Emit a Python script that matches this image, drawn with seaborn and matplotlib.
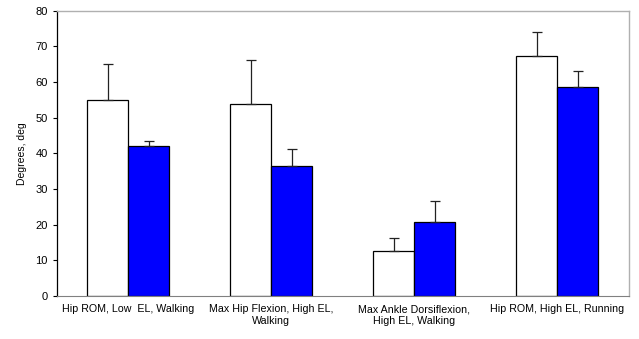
import matplotlib
matplotlib.use("Agg")
import matplotlib.pyplot as plt
import seaborn as sns
import pandas as pd
import numpy as np

categories = [
    "Hip ROM, Low  EL, Walking",
    "Max Hip Flexion, High EL,\nWalking",
    "Max Ankle Dorsiflexion,\nHigh EL, Walking",
    "Hip ROM, High EL, Running",
]
groups = ["A", "B"]
means_a = [55.0, 54.0, 12.7, 67.4]
means_b = [42.0, 36.6, 20.7, 58.5]
err_a = [10.0, 12.2, 3.5, 6.8]
err_b = [1.6, 4.5, 5.9, 4.5]

df = pd.DataFrame({
    "cat": categories * 2,
    "group": [groups[0]] * 4 + [groups[1]] * 4,
    "value": means_a + means_b,
})

sns.set_style("white", {"text.color": "black", "axes.labelcolor": "black",
                        "xtick.color": "black", "ytick.color": "black"})
plt.rcParams["font.family"] = ["Liberation Sans", "DejaVu Sans"]

fig = plt.figure(figsize=(6.39, 3.39), dpi=100)
ax = fig.add_axes([0.089, 0.127, 0.895, 0.841])

sns.barplot(data=df, x="cat", y="value", hue="group", order=categories,
            hue_order=groups, palette=["white", "#0000ff"], saturation=1,
            width=0.575, edgecolor="black", linewidth=0.9, errorbar=None,
            legend=False, gap=0, ax=ax)

# upward-only error bars
for container, errs in zip(ax.containers, [err_a, err_b]):
    xs = [p.get_x() + p.get_width() / 2 for p in container.patches]
    hs = [p.get_height() for p in container.patches]
    ax.errorbar(xs, hs, yerr=[np.zeros(len(errs)), errs], fmt="none",
                ecolor="#222222", elinewidth=0.9, capsize=3.5, capthick=0.9,
                zorder=1)

ax.set_ylim(0, 80)
ax.set_xlim(-0.5, 3.5)
ax.set_yticks(range(0, 81, 10))
ax.set_xlabel("")
ax.set_ylabel("Degrees, deg", fontsize=7.5, labelpad=6)
ax.tick_params(axis="y", direction="out", length=3, width=0.8, labelsize=8,
               left=True, color="black")
ax.tick_params(axis="x", length=0, labelsize=7.7, pad=6)

for side in ["top", "right"]:
    ax.spines[side].set_color("#b0b0b0")
    ax.spines[side].set_linewidth(1.0)
ax.spines["bottom"].set_color("#808080")
ax.spines["left"].set_color("black")
ax.spines["left"].set_linewidth(0.9)

fig.savefig("out.png", dpi=100)
